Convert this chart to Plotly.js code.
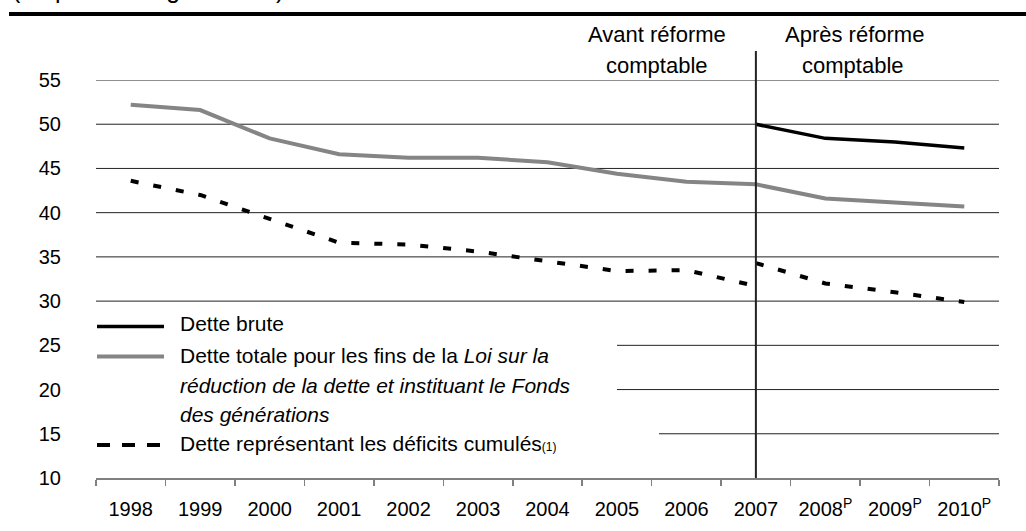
<!DOCTYPE html>
<html>
<head>
<meta charset="utf-8">
<script src="https://cdn.plot.ly/plotly-3.0.1.min.js"></script>
<style>html,body{margin:0;padding:0;background:#fff}#chart{width:1026px;height:531px}</style>
</head>
<body>
<div id="chart"></div>
<script>
// ---- Data ----
var years = ['1998','1999','2000','2001','2002','2003','2004','2005','2006','2007','2008','2009','2010'];
var tickLabels = ['1998','1999','2000','2001','2002','2003','2004','2005','2006','2007','2008<sup>P</sup>','2009<sup>P</sup>','2010<sup>P</sup>'];
var detteBrute = [null,null,null,null,null,null,null,null,null,50.0,48.4,48.0,47.3];
var detteTotale = [52.2,51.6,48.4,46.6,46.2,46.2,45.7,44.4,43.5,43.2,41.6,41.2,40.7];
var yearsAvant = ['1998','1999','2000','2001','2002','2003','2004','2005','2006','2007'];
var deficitsAvant = [43.6,42.0,39.3,36.6,36.4,35.6,34.5,33.4,33.5,31.7];
var yearsApres = ['2007','2008','2009','2010'];
var deficitsApres = [34.3,32.0,31.0,29.9];
var gridFull = [55,50,45,40,35,30];
var gridPartial = [25,20];
var gridShort = [15];
var reformYear = '2007';

// ---- Layout geometry (pixels) ----
var W = 1026, H = 531;
var L = 96, R = 27, T = 80, B = 53;
var PW = W - L - R, PH = H - T - B;
function px(x){ return (x - L) / PW; }
function py(y){ return (H - B - y) / PH; }

var FONT = 'Liberation Sans, Arial, sans-serif';
var GRAY = '#858585';

var traces = [
  {x: years, y: detteTotale, type: 'scatter', mode: 'lines', name: 'Dette totale',
   line: {color: GRAY, width: 4}, showlegend: false, hoverinfo: 'skip'},
  {x: years, y: detteBrute, type: 'scatter', mode: 'lines', name: 'Dette brute',
   line: {color: '#000', width: 3.5}, showlegend: false, hoverinfo: 'skip'},
  {x: yearsAvant, y: deficitsAvant, type: 'scatter', mode: 'lines', name: 'Dette représentant les déficits cumulés',
   line: {color: '#000', width: 4, dash: '8px,15px'}, showlegend: false, hoverinfo: 'skip'},
  {x: yearsApres, y: deficitsApres, type: 'scatter', mode: 'lines', name: 'Dette représentant les déficits cumulés (après)',
   line: {color: '#000', width: 4, dash: '8px,15px'}, showlegend: false, hoverinfo: 'skip'}
];

var shapes = [];
gridFull.forEach(function(v){
  shapes.push({type:'line', layer:'below', xref:'paper', yref:'y', x0:0, x1:1, y0:v, y1:v, line:{color:'#222', width:1}});
});
gridPartial.forEach(function(v){
  shapes.push({type:'line', layer:'below', xref:'paper', yref:'y', x0:px(617), x1:1, y0:v, y1:v, line:{color:'#222', width:1}});
});
gridShort.forEach(function(v){
  shapes.push({type:'line', layer:'below', xref:'paper', yref:'y', x0:px(659), x1:1, y0:v, y1:v, line:{color:'#222', width:1}});
});
// reform separator at the category centre of reformYear
var reformX = (years.indexOf(reformYear) + 0.5) / years.length;
shapes.push({type:'line', xref:'paper', yref:'paper', x0:reformX, x1:reformX, y0:0, y1:py(51), line:{color:'#222', width:2}});
// top rule
shapes.push({type:'rect', xref:'paper', yref:'paper', x0:px(9), x1:px(1030), y0:py(16), y1:py(12), fillcolor:'#000', line:{width:0}});
// legend samples
shapes.push({type:'line', xref:'paper', yref:'paper', x0:px(97), x1:px(164), y0:py(326.5), y1:py(326.5), line:{color:'#000', width:3.5}});
shapes.push({type:'line', xref:'paper', yref:'paper', x0:px(97), x1:px(164), y0:py(356.5), y1:py(356.5), line:{color:GRAY, width:4}});
shapes.push({type:'line', xref:'paper', yref:'paper', x0:px(97), x1:px(164), y0:py(445), y1:py(445), line:{color:'#000', width:4, dash:'13px,12px'}});

function txt(text, x, y, anchor, size, yanchor){
  return {text: text, xref:'paper', yref:'paper', x: px(x), y: py(y), xanchor: anchor, yanchor: yanchor || 'middle',
          showarrow:false, font:{family:FONT, size:size, color:'#000'}};
}
var annotations = [
  txt('(en pourcentage du PIB)', 10, 4.5, 'left', 25, 'bottom'),
  txt('Avant réforme', 657, 34, 'center', 22),
  txt('comptable', 657, 65, 'center', 22),
  txt('Après réforme', 854, 34, 'center', 22),
  txt('comptable', 853, 65, 'center', 22),
  txt('Dette brute', 178, 323, 'left', 21),
  txt('Dette totale pour les fins de la <i>Loi sur la</i>', 178, 355, 'left', 21),
  txt('<i>réduction de la dette et instituant le Fonds</i>', 178, 385, 'left', 21),
  txt('<i>des générations</i>', 178, 414, 'left', 21),
  txt('Dette représentant les déficits cumulés<span style="font-size:12px">(1)</span>', 178, 443, 'left', 21)
];

var layout = {
  width: W, height: H,
  margin: {l: L, r: R, t: T, b: B, pad: 0},
  paper_bgcolor: '#fff', plot_bgcolor: '#fff',
  font: {family: FONT, size: 20, color: '#000'},
  showlegend: false,
  xaxis: {type:'category', tickvals: years, ticktext: tickLabels, range:[-0.5, 12.5],
          showgrid:false, zeroline:false, showline:true, linecolor:'#808080', linewidth:2,
          ticks:'outside', tickson:'boundaries', ticklen:6, tickwidth:1.5, tickcolor:'#808080',
          ticklabelstandoff: 12, tickfont:{family:FONT, size:20, color:'#000'}, fixedrange:true},
  yaxis: {range:[10,55], dtick:5, tick0:10, showgrid:false, zeroline:false, showline:false,
          ticks:'', ticklabelstandoff: 34, tickfont:{family:FONT, size:20, color:'#000'}, fixedrange:true},
  shapes: shapes,
  annotations: annotations,
  hovermode: false
};

Plotly.newPlot('chart', traces, layout, {displayModeBar:false, staticPlot:true});
</script>
</body>
</html>
